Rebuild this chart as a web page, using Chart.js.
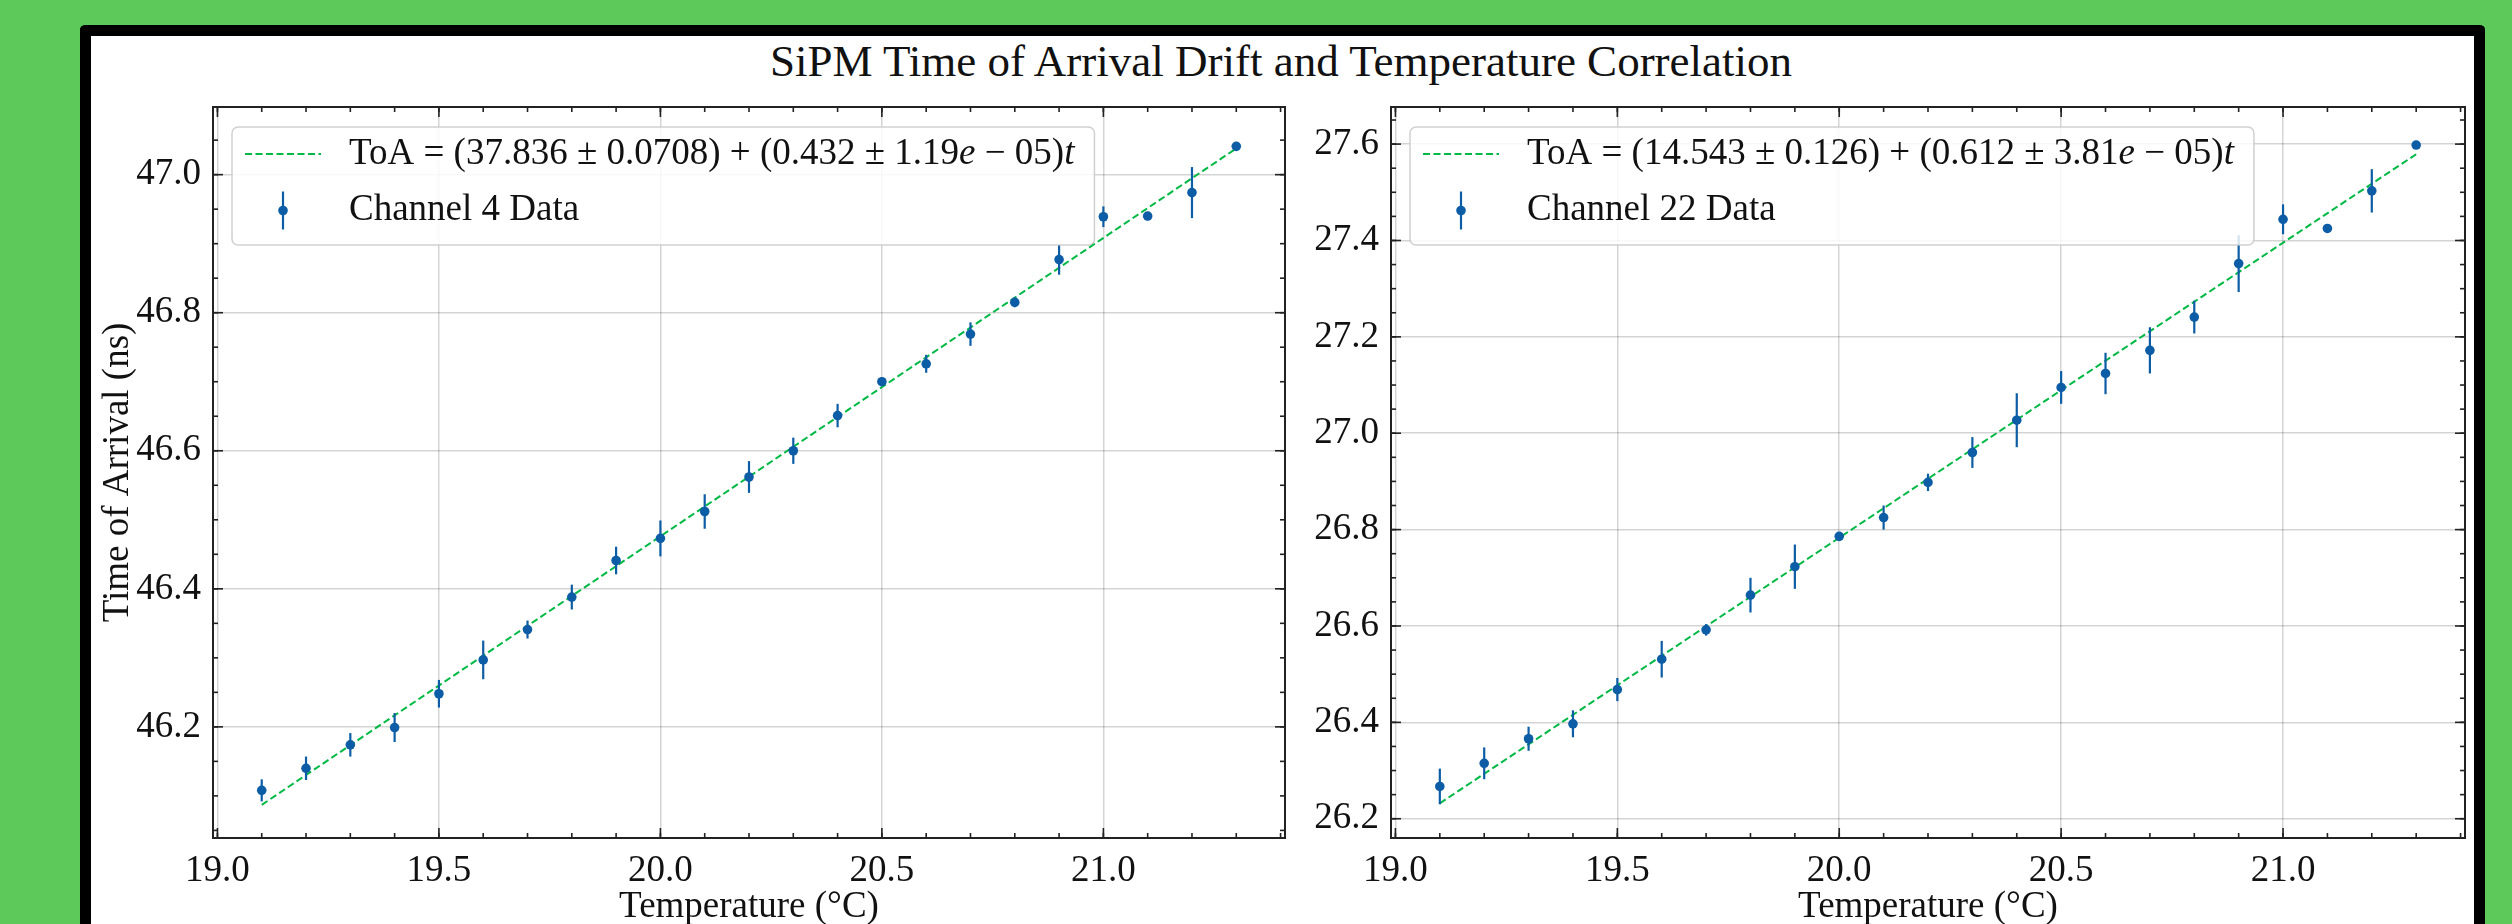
<!DOCTYPE html>
<html>
<head>
<meta charset="utf-8">
<script src="https://cdn.jsdelivr.net/npm/chart.js@4.4.1/dist/chart.umd.min.js"></script>
<style>
  html, body { margin:0; padding:0; }
  body { width:2512px; height:924px; background:#5dc95a; overflow:hidden; position:relative; }
  #frame { position:absolute; left:80px; top:25px; width:2383px; height:1000px; background:#fff;
           border:11px solid #000; border-bottom:none; border-radius:5px; }
  #title { position:absolute; left:0; top:39px; width:2562px; text-align:center;
           font-family:'Liberation Serif', serif; font-size:45px; line-height:45px; color:#111; white-space:nowrap; }
  canvas { position:absolute; }
</style>
</head>
<body>
<div id="frame"></div>
<div id="title">SiPM Time of Arrival Drift and Temperature Correlation</div>
<canvas id="c1" width="1200" height="834" style="left:96px;top:90px;width:1200px;height:834px"></canvas>
<canvas id="c2" width="1190" height="834" style="left:1300px;top:90px;width:1190px;height:834px"></canvas>
<script>
// ---------------- data ----------------
const temps = [19.1, 19.2, 19.3, 19.4, 19.5, 19.6, 19.7, 19.8, 19.9, 20.0, 20.1, 20.2,
               20.3, 20.4, 20.5, 20.6, 20.7, 20.8, 20.9, 21.0, 21.1, 21.2, 21.3];

const toa4 = [46.108, 46.140, 46.174, 46.199, 46.248, 46.297, 46.341, 46.388, 46.441, 46.473, 46.512, 46.562,
              46.600, 46.651, 46.700, 46.726, 46.769, 46.815, 46.877, 46.939, 46.940, 46.974, 47.041];
const err4 = [0.016, 0.017, 0.017, 0.021, 0.020, 0.028, 0.013, 0.018, 0.020, 0.026, 0.025, 0.023,
              0.019, 0.017, 0.006, 0.013, 0.017, 0.007, 0.022, 0.015, 0.006, 0.037, 0.005];

const toa22 = [26.267, 26.315, 26.366, 26.397, 26.468, 26.531, 26.592, 26.664, 26.723, 26.786, 26.825, 26.898,
               26.960, 27.027, 27.095, 27.124, 27.172, 27.241, 27.352, 27.444, 27.425, 27.503, 27.598];
const err22 = [0.037, 0.033, 0.025, 0.028, 0.024, 0.038, 0.012, 0.036, 0.046, 0.005, 0.025, 0.018,
               0.032, 0.056, 0.034, 0.043, 0.048, 0.034, 0.059, 0.031, 0.004, 0.045, 0.003];

// fitted lines (end points)
const fitX = [19.1, 21.3];
const fit4 = [46.087, 47.038];
const fit22 = [26.232, 27.579];

// tick labels
const xTicks = [19.0, 19.5, 20.0, 20.5, 21.0];
const yTicks4 = [46.2, 46.4, 46.6, 46.8, 47.0];
const yTicks22 = [26.2, 26.4, 26.6, 26.8, 27.0, 27.2, 27.4, 27.6];

// legend labels (segments: [text, italic])
const legendFit4 = [['ToA = (37.836 \u00b1 0.0708) + (0.432 \u00b1 1.19', false], ['e', true], [' \u2212 05)', false], ['t', true]];
const legendFit22 = [['ToA = (14.543 \u00b1 0.126) + (0.612 \u00b1 3.81', false], ['e', true], [' \u2212 05)', false], ['t', true]];
const legendData4 = 'Channel 4 Data';
const legendData22 = 'Channel 22 Data';

// ---------------- style ----------------
const FONT = "'Liberation Serif', serif";
const BLUE = '#0C5DA5';
const GREEN = '#00B945';
const TXT = '#111111';

function seg(ctx, segs, size) {
  let w = 0;
  segs.forEach(([t, it]) => { ctx.font = (it ? 'italic ' : '') + size + 'px ' + FONT; w += ctx.measureText(t).width; });
  return w;
}

const errorBars = {
  id: 'errorBars',
  beforeDatasetDraw(chart, args) {
    const ds = chart.data.datasets[args.index];
    if (!ds.errors) return;
    const { ctx, scales: { x, y } } = chart;
    ctx.save();
    ctx.strokeStyle = ds.backgroundColor;
    ctx.lineWidth = 2.2;
    ds.data.forEach((p, i) => {
      const px = x.getPixelForValue(p.x);
      ctx.beginPath();
      ctx.moveTo(px, y.getPixelForValue(p.y - ds.errors[i]));
      ctx.lineTo(px, y.getPixelForValue(p.y + ds.errors[i]));
      ctx.stroke();
    });
    ctx.restore();
  }
};

const legendBox = {
  id: 'legendBox',
  afterDatasetsDraw(chart) {
    const { ctx, chartArea: { left, top } } = chart;
    const fitDs = chart.data.datasets.find(d => !d.errors);
    const dataDs = chart.data.datasets.find(d => d.errors);
    const size = 37;
    const w1 = seg(ctx, fitDs.segs, size);
    ctx.font = size + 'px ' + FONT;
    const w2 = ctx.measureText(dataDs.label).width;
    const bx = left + 19, by = top + 20;
    const bw = 117 + Math.max(w1, w2) + 20, bh = 118;
    ctx.save();
    ctx.beginPath();
    ctx.roundRect(bx, by, bw, bh, 6);
    ctx.fillStyle = 'rgba(255,255,255,0.82)';
    ctx.fill();
    ctx.strokeStyle = 'rgba(200,200,200,0.85)';
    ctx.lineWidth = 1.5;
    ctx.stroke();
    const r1 = by + 27, r2 = by + 83.5;
    // fit handle
    ctx.strokeStyle = fitDs.borderColor;
    ctx.lineWidth = 2;
    ctx.setLineDash([7, 3.5]);
    ctx.beginPath(); ctx.moveTo(bx + 13, r1); ctx.lineTo(bx + 89, r1); ctx.stroke();
    ctx.setLineDash([]);
    // data handle
    ctx.strokeStyle = dataDs.backgroundColor;
    ctx.lineWidth = 2.2;
    ctx.beginPath(); ctx.moveTo(bx + 51, r2 - 19); ctx.lineTo(bx + 51, r2 + 19); ctx.stroke();
    ctx.fillStyle = dataDs.backgroundColor;
    ctx.beginPath(); ctx.arc(bx + 51, r2, 4.8, 0, Math.PI * 2); ctx.fill();
    // texts
    ctx.fillStyle = TXT;
    ctx.textBaseline = 'middle';
    ctx.textAlign = 'left';
    let tx = bx + 117;
    fitDs.segs.forEach(([t, it]) => {
      ctx.font = (it ? 'italic ' : '') + size + 'px ' + FONT;
      ctx.fillText(t, tx, r1);
      tx += ctx.measureText(t).width;
    });
    ctx.font = size + 'px ' + FONT;
    ctx.fillText(dataDs.label, bx + 117, r2);
    ctx.restore();
  }
};

const frameTicks = {
  id: 'frameTicks',
  afterDraw(chart) {
    const { ctx, chartArea: { left, right, top, bottom }, scales: { x, y } } = chart;
    const o = chart.options.plugins.frameTicks;
    ctx.save();
    ctx.strokeStyle = '#222';
    ctx.lineWidth = 1.6;
    const ln = (a, b, c, d) => { ctx.beginPath(); ctx.moveTo(a, b); ctx.lineTo(c, d); ctx.stroke(); };
    // minor
    for (let k = Math.ceil(x.min / o.xMinor - 1e-9); k * o.xMinor <= x.max + 1e-9; k++) {
      const px = x.getPixelForValue(k * o.xMinor);
      ln(px, bottom, px, bottom - 5); ln(px, top, px, top + 5);
    }
    for (let k = Math.ceil(y.min / o.yMinor - 1e-9); k * o.yMinor <= y.max + 1e-9; k++) {
      const py = y.getPixelForValue(k * o.yMinor);
      ln(left, py, left + 5, py); ln(right, py, right - 5, py);
    }
    // major
    x.ticks.forEach(t => { const px = x.getPixelForValue(t.value); ln(px, bottom, px, bottom - 10); ln(px, top, px, top + 10); });
    y.ticks.forEach(t => { const py = y.getPixelForValue(t.value); ln(left, py, left + 10, py); ln(right, py, right - 10, py); });
    ctx.lineWidth = 2;
    ctx.strokeRect(left, top, right - left, bottom - top);
    ctx.restore();
  }
};

function makeChart(id, cfg) {
  const tickFont = { family: FONT, size: 37 };
  const titleFont = { family: FONT, size: 37, lineHeight: 0.9 };
  return new Chart(document.getElementById(id), {
    type: 'scatter',
    data: {
      datasets: [
        {
          label: 'fit', segs: cfg.segs,
          data: fitX.map((v, i) => ({ x: v, y: cfg.fit[i] })),
          showLine: true, borderColor: GREEN, borderWidth: 2, borderDash: [7, 3.5],
          pointRadius: 0, order: 2
        },
        {
          label: cfg.dataLabel,
          data: temps.map((t, i) => ({ x: t, y: cfg.toa[i] })),
          errors: cfg.err,
          backgroundColor: BLUE, borderColor: BLUE, pointRadius: 4.8, pointBorderWidth: 0,
          showLine: false, order: 1
        }
      ]
    },
    options: {
      responsive: false, animation: false, devicePixelRatio: 1,
      layout: { padding: { top: 17, right: cfg.padRight, left: 0, bottom: 0 } },
      plugins: {
        legend: { display: false }, title: { display: false }, tooltip: { enabled: false },
        frameTicks: { xMinor: 0.1, yMinor: 0.05 }
      },
      scales: {
        x: {
          type: 'linear', min: 18.99, max: 21.41,
          afterBuildTicks: s => { s.ticks = xTicks.map(v => ({ value: v })); },
          afterFit: s => { s.height = 86; s.paddingLeft = 0; s.paddingRight = 0; },
          ticks: { callback: v => v.toFixed(1), font: tickFont, color: TXT, padding: 11, maxRotation: 0, autoSkip: false },
          grid: { color: 'rgba(0,0,0,0.17)', lineWidth: 1.5, drawTicks: false },
          border: { display: false },
          title: { display: true, text: 'Temperature (\u00b0C)', font: titleFont, color: TXT, padding: { top: 0, bottom: 0 } }
        },
        y: {
          type: 'linear', min: cfg.yMin, max: cfg.yMax,
          afterBuildTicks: s => { s.ticks = cfg.yTicks.map(v => ({ value: v })); },
          afterFit: s => { s.width = cfg.yWidth; s.paddingTop = 0; s.paddingBottom = 0; },
          ticks: { callback: v => v.toFixed(1), font: tickFont, color: TXT, padding: 12, autoSkip: false },
          grid: { color: 'rgba(0,0,0,0.17)', lineWidth: 1.5, drawTicks: false },
          border: { display: false },
          title: { display: !!cfg.yTitle, text: cfg.yTitle || '', font: { family: FONT, size: 37, lineHeight: 1.2 }, color: TXT, padding: { top: 0, bottom: 0 } }
        }
      }
    },
    plugins: [errorBars, legendBox, frameTicks]
  });
}

makeChart('c1', {
  segs: legendFit4, fit: fit4, toa: toa4, err: err4, dataLabel: legendData4,
  yMin: 46.039, yMax: 47.098, yTicks: yTicks4, yWidth: 117, padRight: 11,
  yTitle: 'Time of Arrival (ns)'
});
makeChart('c2', {
  segs: legendFit22, fit: fit22, toa: toa22, err: err22, dataLabel: legendData22,
  yMin: 26.160, yMax: 27.677, yTicks: yTicks22, yWidth: 91, padRight: 25,
  yTitle: null
});
</script>
</body>
</html>
